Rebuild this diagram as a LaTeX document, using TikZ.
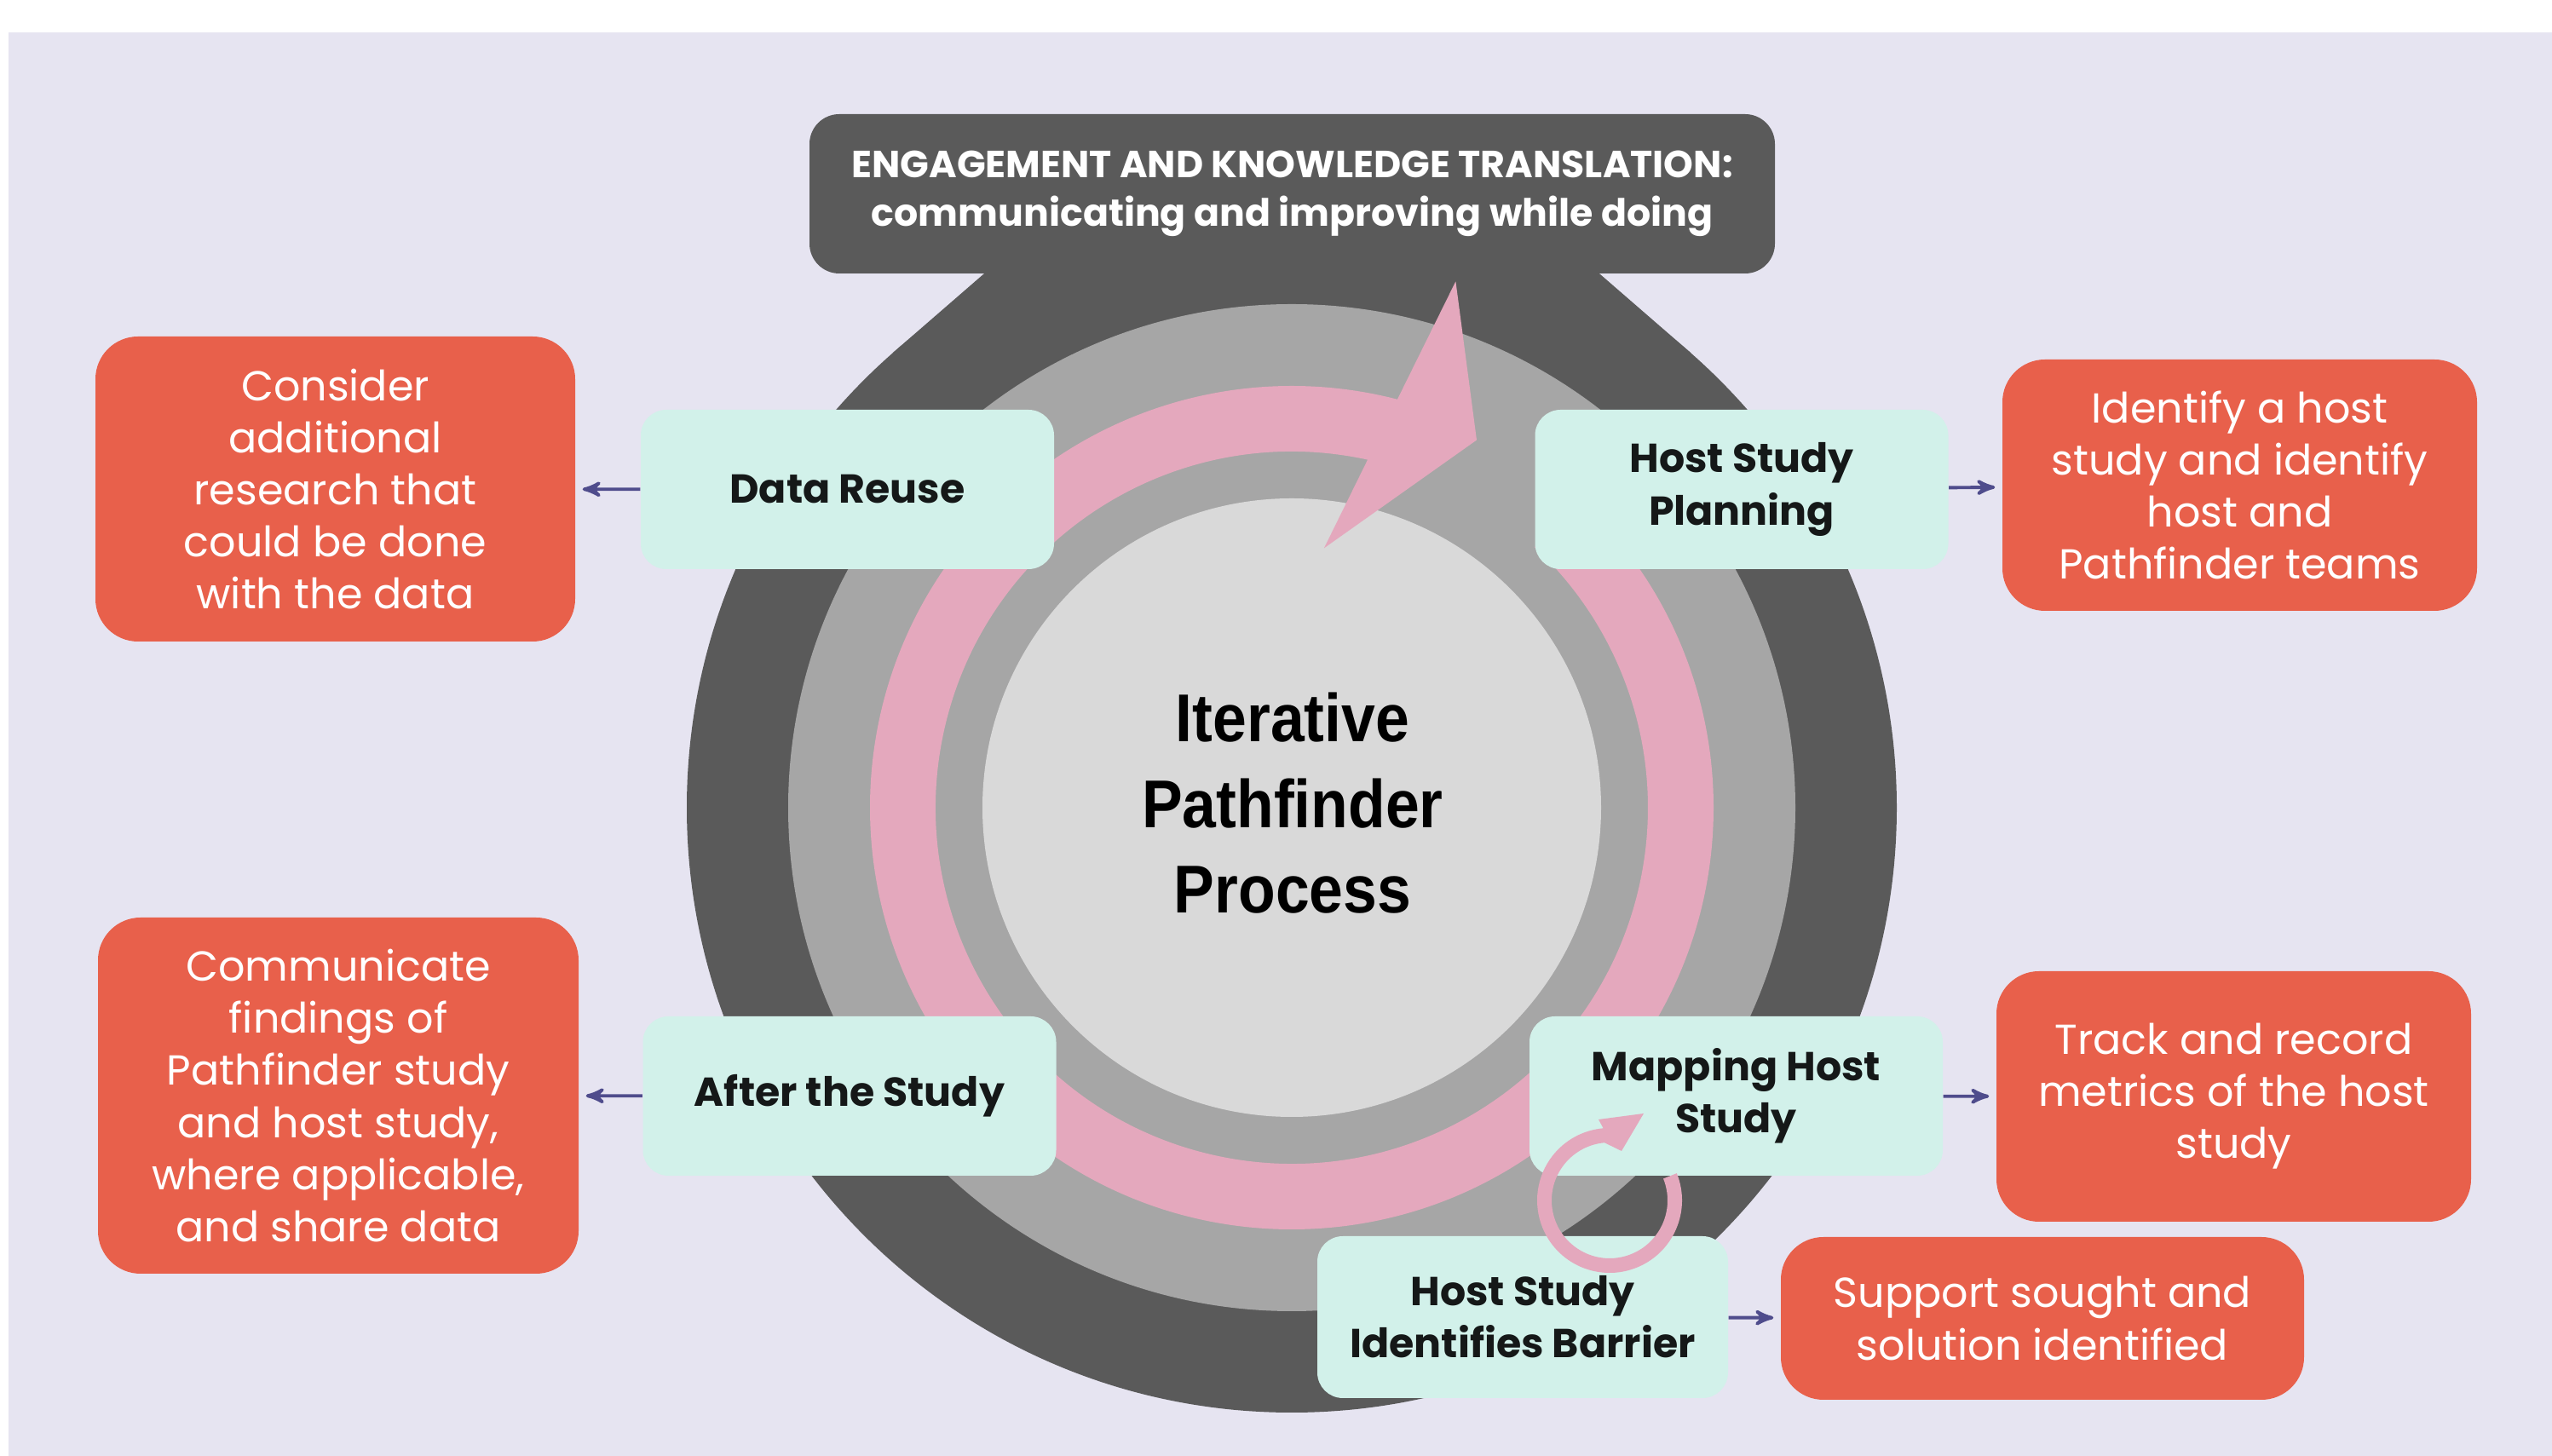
\documentclass[tikz,border=0pt]{standalone}
\usepackage{fontspec}
\setmainfont{Poppins}
\newfontfamily\condfont{Liberation Sans}[FakeStretch=0.9]
\usetikzlibrary{arrows}

\definecolor{lavender}{HTML}{E6E4F1}
\definecolor{ringdark}{HTML}{5A5A5A}
\definecolor{ringmid}{HTML}{A6A6A6}
\definecolor{ringlight}{HTML}{D9D9D9}
\definecolor{bandpink}{HTML}{E4A8BD}
\definecolor{mint}{HTML}{D2F1EA}
\definecolor{coral}{HTML}{E8604B}
\definecolor{linkpurple}{HTML}{4F4C8C}
\definecolor{inkdark}{HTML}{151818}

\begin{document}
\begin{tikzpicture}[>=stealth',
  stage/.style={rectangle,rounded corners=0.3cm,fill=mint,text=inkdark,align=center,
    minimum width=4.85cm,minimum height=1.87cm,font=\fontsize{13.5}{17.4}\selectfont\bfseries},
  note/.style={rectangle,rounded corners=0.5cm,fill=coral,text=white,align=center,
    font=\fontsize{14}{17.4}\selectfont}]

  \tikzstyle{conn} = [draw,->,line width=1.1pt,linkpurple,shorten >=0.08cm]

  \useasboundingbox (0,0) rectangle (29.95,17.09);
  \fill[white] (0,0) rectangle (29.95,17.09);
  \fill[lavender] (0.10,0) rectangle (29.95,16.71);

  % the three rings
  \coordinate (c) at (15.16,7.61);
  \fill[ringdark] (11.69,14.0) -- (10.48,12.95) -- (19.84,12.95) -- (18.63,14.0) -- cycle;
  \fill[ringdark] (c) circle (7.10);
  \node[rectangle,rounded corners=0.35cm,fill=ringdark,text=white,align=center,
    minimum width=11.33cm,minimum height=1.87cm,
    font=\fontsize{12.6}{16.2}\selectfont\bfseries] (eng) at (15.165,14.815)
    {ENGAGEMENT AND KNOWLEDGE TRANSLATION:\\communicating and improving while doing};
  \fill[ringmid] (c) circle (5.91);
  \fill[ringlight] (c) circle (3.63);

  % big cycle arrow
  \fill[bandpink,shift={(c)}] (47:4.95) arc[start angle=47,end angle=-284.5,radius=4.95]
    -- (72.7:6.47) -- (63.3:4.83) -- (82.9:3.07) -- (-282.3:4.18)
    arc[start angle=-282.3,end angle=47,radius=4.18] -- cycle;

  \node[font=\condfont\fontsize{22.6}{28.6}\selectfont\bfseries,align=center] (core) at (15.17,7.66)
    {Iterative\\Pathfinder\\Process};

  \node[stage] (dr) at (9.945,11.345) {Data Reuse};
  \node[stage] (hsp) at (20.44,11.345) {Host Study\\Planning};
  \node[stage] (ats) at (9.97,4.225) {After the Study};
  \node[stage] (mhs) at (20.375,4.225) {Mapping Host\\Study};
  \node[stage,minimum width=4.82cm,minimum height=1.9cm] (hsb) at (17.87,1.63) {Host Study\\Identifies Barrier};

  \node[note,minimum width=5.63cm,minimum height=3.58cm] (cons) at (3.935,11.35)
    {Consider\\additional\\research that\\could be done\\with the data};
  \node[note,minimum width=5.64cm,minimum height=4.18cm] (comm) at (3.97,4.23)
    {Communicate\\findings of\\Pathfinder study\\and host study,\\where applicable,\\and share data};
  \node[note,minimum width=5.57cm,minimum height=2.95cm] (ident) at (26.285,11.395)
    {Identify a host\\study and identify\\host and\\Pathfinder teams};
  \node[note,minimum width=5.57cm,minimum height=2.94cm] (track) at (26.215,4.22)
    {Track and record\\metrics of the host\\study};
  \node[note,minimum width=6.14cm,minimum height=1.91cm] (supp) at (23.97,1.615)
    {Support sought and\\solution identified};

  \path[conn]
    (dr) edge (cons)
    (hsp) edge (ident)
    (ats) edge (comm)
    (mhs) edge (track)
    (hsb) edge (supp);

  % small loop between mapping and barrier
  \fill[bandpink,shift={(18.89,3.0)}] (22:0.85) arc[start angle=22,end angle=-265,radius=0.85]
    -- (-0.13,0.95) -- (0.40,1.02) -- (0.14,0.58) -- (-265:0.68)
    arc[start angle=-265,end angle=22,radius=0.68] -- cycle;
\end{tikzpicture}
\end{document}
